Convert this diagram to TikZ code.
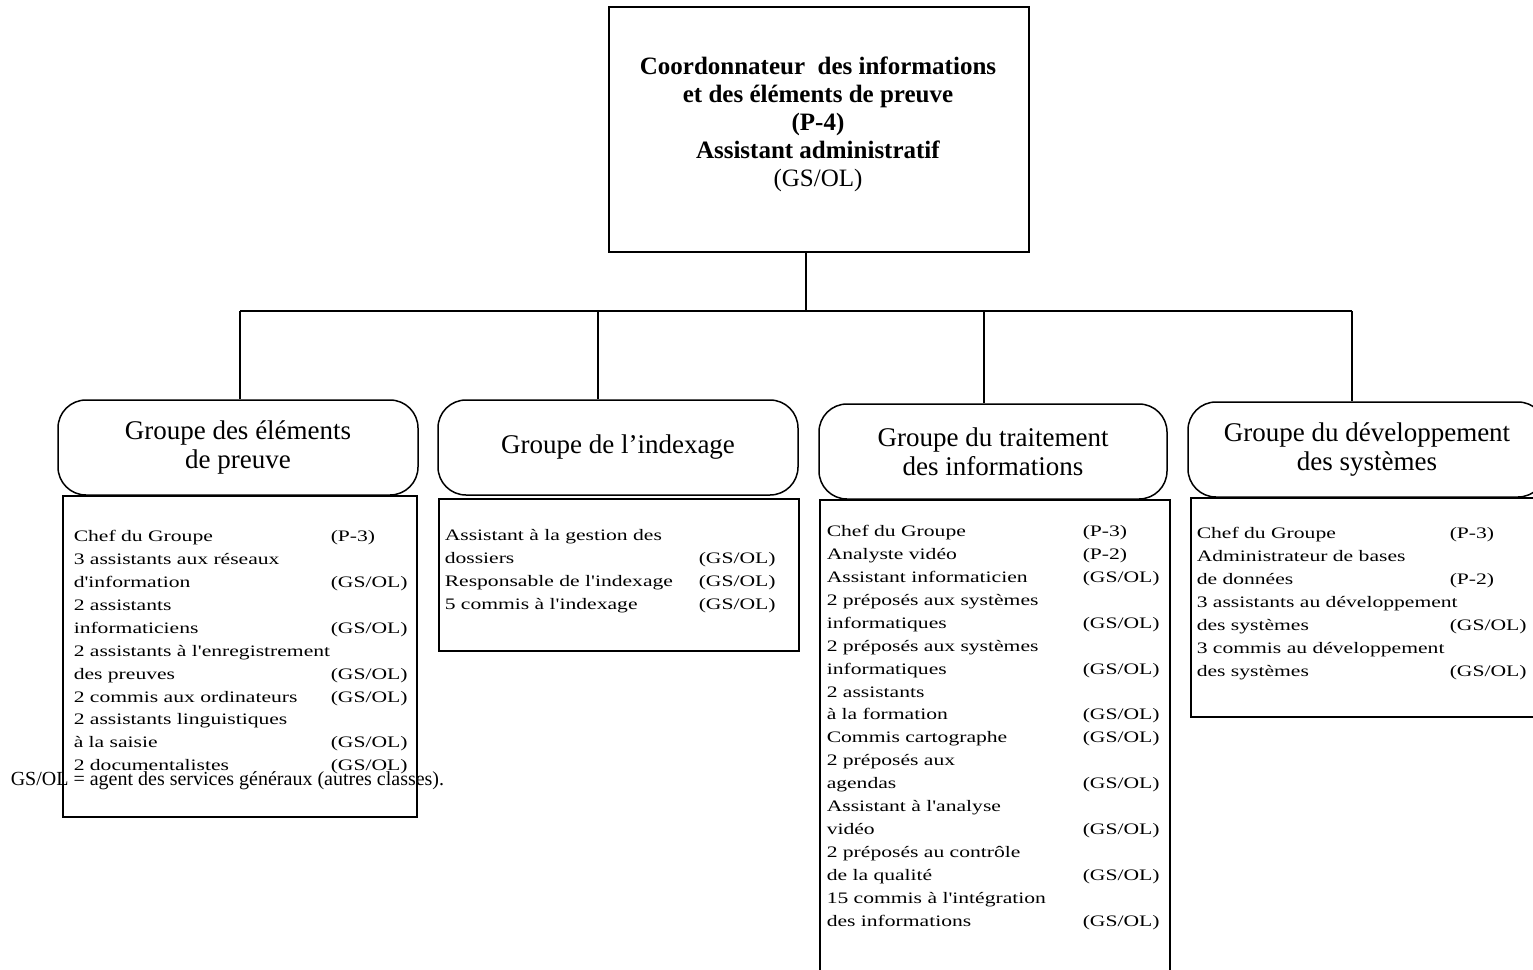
\documentclass[tikz,border=0pt]{standalone}
\usepackage{fontspec}
\setmainfont{Liberation Serif}
\newfontfamily\listfont[FakeStretch=1.35]{Liberation Serif}
\newcommand\lrow[3]{\makebox[#1][l]{#2}#3}
\begin{document}
\begin{tikzpicture}[x=1pt,y=-1pt,line width=1.5pt,
  boxx/.style={draw,rectangle,inner sep=0pt,anchor=north west},
  grp/.style={draw,rectangle,rounded corners=28pt,inner sep=0pt,align=center,
    font=\fontsize{27}{29}\selectfont},
  lst/.style={inner sep=0pt,anchor=north west,font=\listfont\fontsize{16}{22.9}\selectfont},
  conn/.style={draw,line width=1.3pt}]
\useasboundingbox (0,0) rectangle (1533,969);
% top box
\node[boxx,minimum width=420pt,minimum height=245pt] (top) at (608,6) {};
\node[align=center,inner sep=0pt,font=\fontsize{25}{28}\selectfont] (toptxt) at (818,124)
  {\textbf{Coordonnateur~ des informations}\\\textbf{et des éléments de preuve}\\\textbf{(P-4)}\\\textbf{Assistant administratif}\\(GS/OL)};
% group headers
\node[grp,minimum width=360pt,minimum height=95pt] (g1) at (238,447.5) {Groupe des éléments\\de preuve};
\node[grp,minimum width=360pt,minimum height=95pt] (g2) at (618,447.5) {Groupe de l'indexage};
\node[grp,minimum width=348pt,minimum height=95pt] (g3) at (993,451.5) {Groupe du traitement\\des informations};
\node[grp,minimum width=358pt,minimum height=95pt] (g4) at (1367,449.5) {Groupe du développement\\des systèmes};
% connectors
\coordinate (j) at (806,311);
\coordinate (b1) at (240,311);
\coordinate (b2) at (598,311);
\coordinate (b3) at (984,311);
\coordinate (b4) at (1352,311);
\draw[conn] (top.south -| j) -- (j);
\draw[conn] (b1) -- (b4);
\draw[conn] (b1) -- (b1 |- g1.north);
\draw[conn] (b2) -- (b2 |- g2.north);
\draw[conn] (b3) -- (b3 |- g3.north);
\draw[conn] (b4) -- (b4 |- g4.north);
% list boxes
\node[boxx,minimum width=354pt,minimum height=321pt] (l1) at (62,495) {};
\node[boxx,minimum width=360pt,minimum height=152pt] (l2) at (438,498) {};
\node[boxx,minimum width=350pt,minimum height=490pt] (l3) at (819,499) {};
\node[boxx,minimum width=354pt,minimum height=219pt] (l4) at (1190,497) {};
% list texts
\node[lst] (t1) at (73,525) {\begin{tabular}{@{}l@{}}
\lrow{257pt}{Chef du Groupe}{(P-3)}\\
\lrow{257pt}{3 assistants aux réseaux}{}\\
\lrow{257pt}{d'information}{(GS/OL)}\\
\lrow{257pt}{2 assistants}{}\\
\lrow{257pt}{informaticiens}{(GS/OL)}\\
\lrow{257pt}{2 assistants à l'enregistrement}{}\\
\lrow{257pt}{des preuves}{(GS/OL)}\\
\lrow{257pt}{2 commis aux ordinateurs}{(GS/OL)}\\
\lrow{257pt}{2 assistants linguistiques}{}\\
\lrow{257pt}{à la saisie}{(GS/OL)}\\
\lrow{257pt}{2 documentalistes}{(GS/OL)}
\end{tabular}};
\node[lst] (t2) at (444,524) {\begin{tabular}{@{}l@{}}
\lrow{254pt}{Assistant à la gestion des}{}\\
\lrow{254pt}{dossiers}{(GS/OL)}\\
\lrow{254pt}{Responsable de l'indexage}{(GS/OL)}\\
\lrow{254pt}{5 commis à l'indexage}{(GS/OL)}
\end{tabular}};
\node[lst] (t3) at (826,520) {\begin{tabular}{@{}l@{}}
\lrow{256pt}{Chef du Groupe}{(P-3)}\\
\lrow{256pt}{Analyste vidéo}{(P-2)}\\
\lrow{256pt}{Assistant informaticien}{(GS/OL)}\\
\lrow{256pt}{2 préposés aux systèmes}{}\\
\lrow{256pt}{informatiques}{(GS/OL)}\\
\lrow{256pt}{2 préposés aux systèmes}{}\\
\lrow{256pt}{informatiques}{(GS/OL)}\\
\lrow{256pt}{2 assistants}{}\\
\lrow{256pt}{à la formation}{(GS/OL)}\\
\lrow{256pt}{Commis cartographe}{(GS/OL)}\\
\lrow{256pt}{2 préposés aux}{}\\
\lrow{256pt}{agendas}{(GS/OL)}\\
\lrow{256pt}{Assistant à l'analyse}{}\\
\lrow{256pt}{vidéo}{(GS/OL)}\\
\lrow{256pt}{2 préposés au contrôle}{}\\
\lrow{256pt}{de la qualité}{(GS/OL)}\\
\lrow{256pt}{15 commis à l'intégration}{}\\
\lrow{256pt}{des informations}{(GS/OL)}
\end{tabular}};
\node[lst] (t4) at (1196,522) {\begin{tabular}{@{}l@{}}
\lrow{253pt}{Chef du Groupe}{(P-3)}\\
\lrow{253pt}{Administrateur de bases}{}\\
\lrow{253pt}{de données}{(P-2)}\\
\lrow{253pt}{3 assistants au développement}{}\\
\lrow{253pt}{des systèmes}{(GS/OL)}\\
\lrow{253pt}{3 commis au développement}{}\\
\lrow{253pt}{des systèmes}{(GS/OL)}
\end{tabular}};
% footnote
\node[inner sep=0pt,anchor=base west,font=\fontsize{20}{22}\selectfont] (foot) at (10,785)
  {GS/OL = agent des services généraux (autres classes).};
\end{tikzpicture}
\end{document}
